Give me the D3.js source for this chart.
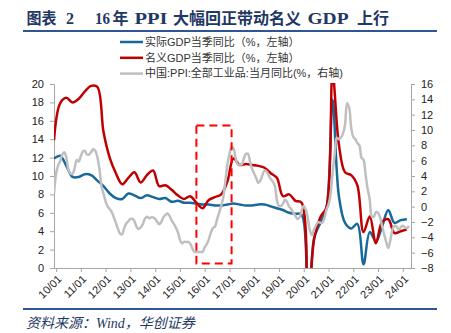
<!DOCTYPE html>
<html><head><meta charset="utf-8">
<script src="https://cdn.jsdelivr.net/npm/d3@7/dist/d3.min.js"></script>
<style>body{margin:0;background:#fff}svg{display:block}</style>
</head><body><svg id="c" width="451" height="333"></svg>
<script>
// ---------- data ----------
const quarters = ["2009-12",
 "2010-03","2010-06","2010-09","2010-12","2011-03","2011-06","2011-09","2011-12",
 "2012-03","2012-06","2012-09","2012-12","2013-03","2013-06","2013-09","2013-12",
 "2014-03","2014-06","2014-09","2014-12","2015-03","2015-06","2015-09","2015-12",
 "2016-03","2016-06","2016-09","2016-12","2017-03","2017-06","2017-09","2017-12",
 "2018-03","2018-06","2018-09","2018-12","2019-03","2019-06","2019-09","2019-12",
 "2020-03","2020-06","2020-09","2020-12","2021-03","2021-06","2021-09","2021-12",
 "2022-03","2022-06","2022-09","2022-12","2023-03","2023-06","2023-09","2023-12",
 "2024-03"];
const realGDP = [11.9,
 12.2,11.1,9.9,9.9, 10.2,10.1,9.5,8.9,
 8.1,7.6,7.5,8.1, 7.9,7.6,7.9,7.7,
 7.5,7.6,7.2,7.3, 7.1,7.1,7.0,6.9,
 6.9,6.8,6.8,6.9, 7.0,6.9,6.8,6.8,
 6.9,6.9,6.7,6.5, 6.3,6.0,5.9,5.8,
 -6.8,3.2,4.9,6.5, 18.3,7.9,4.9,4.3,
 4.8,0.4,3.9,2.9, 4.5,6.3,4.9,5.2,
 5.3];
const nominalGDP = [13.9,
 17.9,18.5,18.0,18.4, 19.2,19.8,19.7,14.8,
 12.0,10.3,9.1,9.8, 10.4,9.3,10.1,10.6,
 8.9,9.0,8.5,7.9, 7.5,7.8,7.1,6.5,
 7.4,7.7,8.0,9.4, 11.9,11.2,11.3,11.2,
 11.1,10.9,10.3,9.8, 7.8,8.0,7.3,7.1,
 -5.3,3.1,5.5,6.6, 21.2,13.5,10.4,10.1,
 9.0,3.9,5.6,2.7, 5.0,5.3,3.8,4.0,
 4.2];
const ppiStart = "2009-12";
const ppi = [1.7,
 4.3,5.4,5.9,6.8,7.1,6.4,4.8,4.3,4.3,5.0,6.1,5.9,
 6.6,7.2,7.3,6.8,6.8,7.1,7.5,7.3,6.5,5.0,2.7,1.7,
 0.7,0.0,-0.3,-0.7,-1.4,-2.1,-2.9,-3.5,-3.6,-2.8,-2.2,-1.9,
 -1.6,-1.6,-1.9,-2.6,-2.9,-2.7,-2.3,-1.6,-1.3,-1.5,-1.4,-1.4,
 -1.6,-2.0,-2.3,-2.0,-1.4,-1.1,-0.9,-1.2,-1.8,-2.2,-2.7,-3.3,
 -4.3,-4.8,-4.6,-4.6,-4.6,-4.8,-5.4,-5.9,-5.9,-5.9,-5.9,-5.9,
 -5.3,-4.9,-4.3,-3.4,-2.8,-2.6,-1.7,-0.8,0.1,1.2,3.3,5.5,
 6.9,7.8,7.6,6.4,5.5,5.5,5.5,6.3,6.9,6.9,5.8,4.9,
 4.3,3.7,3.1,3.4,4.1,4.7,4.6,4.1,3.6,3.3,2.7,0.9,
 0.1,0.1,0.4,0.9,0.6,0.0,-0.3,-0.8,-1.2,-1.6,-1.4,-0.5,
 0.1,-0.4,-1.5,-3.1,-3.7,-3.0,-2.4,-2.0,-2.1,-2.1,-1.5,-0.4,
 0.3,1.7,4.4,6.8,9.0,8.8,9.0,9.5,10.7,13.5,12.9,10.3,
 9.1,8.8,8.3,8.0,6.4,6.1,4.2,2.3,0.9,-1.3,-1.3,-0.7,
 -0.8,-1.4,-2.5,-3.6,-4.6,-5.4,-4.4,-3.0,-2.5,-2.6,-3.0,-2.7,
 -2.5,-2.7,-2.8,-2.5];
const xTickLabels = ["10/01","11/01","12/01","13/01","14/01","15/01","16/01","17/01","18/01","19/01","20/01","21/01","22/01","23/01","24/01"];
const leftTicks = [0,2,4,6,8,10,12,14,16,18,20];
const rightTicks = [-8,-6,-4,-2,0,2,4,6,8,10,12,14,16];
const seriesNames = ["实际GDP当季同比（%，左轴）","名义GDP当季同比（%，左轴）","中国:PPI:全部工业品:当月同比(%，右轴)"];
const titleParts = ["图表","2","16","年","PPI","大幅回正带动名义","GDP","上行"];
const sourceText = "资料来源：Wind，华创证券";
const highlight = {from:"2015-09", to:"2017-02", top:15.5, bottom:0.5};

// ---------- layout ----------
const svg = d3.select("#c");
const parse = d3.timeParse("%Y-%m");
const L = 54, R = 411, T = 84, B = 268;
const colors = ["#17699a", "#c00000", "#bfbfbf"];
const axisColor = "#a6a6a6";

const x = d3.scaleTime().domain([parse("2009-12"), parse("2024-05")]).range([L, R]);
const yL = d3.scaleLinear().domain([0, 20]).range([B, T]);
const yR = d3.scaleLinear().domain([-8, 16]).range([B, T]);

// title (segments placed like the original's wide spacing)
const titleX = [26.5, 66, 95, 112.5, 134.5, 173, 307.5, 357];
const titleLen = [30, 0, 15, 0, 33, 0, 41, 0];
const tt = svg.append("text").attr("y", 24)
  .attr("font-family", "'Liberation Serif','Noto Sans CJK SC',serif")
  .attr("font-weight", "bold").attr("font-size", 16).attr("fill", "#1f3864");
titleParts.forEach((p, i) => {
  const ts = tt.append("tspan").attr("x", titleX[i]).text(p);
  if (titleLen[i]) ts.attr("textLength", titleLen[i]).attr("lengthAdjust", "spacingAndGlyphs");
});
svg.append("line").attr("x1", 23).attr("x2", 437).attr("y1", 31).attr("y2", 31)
  .attr("stroke", "#2f5597").attr("stroke-width", 2);
svg.append("line").attr("x1", 23).attr("x2", 437).attr("y1", 309).attr("y2", 309)
  .attr("stroke", "#2f5597").attr("stroke-width", 2);
svg.append("text").attr("x", 26).attr("y", 328)
  .attr("font-family", "'Liberation Serif','Noto Sans CJK SC',serif")
  .attr("font-style", "italic").attr("font-size", 14).attr("fill", "#1f3864")
  .text(sourceText);

// axes
const fontAxis = "'Liberation Sans',Arial,sans-serif";
const gL = svg.append("g").attr("transform", `translate(${L},0)`)
  .call(d3.axisLeft(yL).tickValues(leftTicks).tickSize(4).tickPadding(6).tickFormat(d3.format("d")));
const gR = svg.append("g").attr("transform", `translate(${R},0)`)
  .call(d3.axisRight(yR).tickValues(rightTicks).tickSize(4).tickPadding(6).tickFormat(d3.format("d")));
const xTickDates = xTickLabels.map(s => parse("20" + s.slice(0,2) + "-" + s.slice(3)));
const gX = svg.append("g").attr("transform", `translate(0,${B})`)
  .call(d3.axisBottom(x).tickValues(xTickDates).tickSize(4).tickFormat((d,i) => xTickLabels[i]));
gX.select(".domain").attr("d", `M${L},0.5H${R}`);
[gL, gR, gX].forEach(g => {
  g.selectAll("path,line").attr("stroke", axisColor);
  g.selectAll("text").attr("font-family", fontAxis).attr("font-size", 11).attr("fill", "#222");
});
gX.selectAll(".tick text").attr("text-anchor", "end")
  .attr("transform", "translate(3,9) rotate(-45)").attr("dy", "0.35em").attr("y", 0).attr("x", 0);

// clip
svg.append("clipPath").attr("id", "plot").append("rect")
  .attr("x", L).attr("y", T - 1).attr("width", R - L).attr("height", B - T + 1);

const curve = d3.curveCatmullRom.alpha(0.5);
const plot = svg.append("g").attr("clip-path", "url(#plot)");
const qDates = quarters.map(parse);
const ppiDates = ppi.map((v, i) => d3.timeMonth.offset(parse(ppiStart), i));

const lineL = d3.line().x(d => x(d[0])).y(d => yL(d[1])).curve(curve);
const lineR = d3.line().x(d => x(d[0])).y(d => yR(d[1])).curve(curve);

plot.append("path").attr("d", lineL(qDates.map((d, i) => [d, realGDP[i]])))
  .attr("fill", "none").attr("stroke", colors[0]).attr("stroke-width", 2.5);
plot.append("path").attr("d", lineL(qDates.map((d, i) => [d, nominalGDP[i]])))
  .attr("fill", "none").attr("stroke", colors[1]).attr("stroke-width", 2.5);
plot.append("path").attr("d", lineR(ppiDates.map((d, i) => [d, ppi[i]])))
  .attr("fill", "none").attr("stroke", colors[2]).attr("stroke-width", 2.5);

// highlight box
svg.append("rect")
  .attr("x", x(parse(highlight.from))).attr("y", yL(highlight.top))
  .attr("width", x(parse(highlight.to)) - x(parse(highlight.from)))
  .attr("height", yL(highlight.bottom) - yL(highlight.top))
  .attr("fill", "none").attr("stroke", "#ff0000").attr("stroke-width", 2)
  .attr("stroke-dasharray", "8,5");

// legend
const lg = svg.append("g");
seriesNames.forEach((name, i) => {
  const yy = 42 + i * 15.8;
  lg.append("line").attr("x1", 120).attr("x2", 143).attr("y1", yy).attr("y2", yy)
    .attr("stroke", colors[i]).attr("stroke-width", 2.5);
  lg.append("text").attr("x", 145).attr("y", yy).attr("dy", "0.35em")
    .attr("font-family", "'Liberation Sans','Noto Sans CJK SC',sans-serif")
    .attr("font-size", 11).attr("fill", "#333").text(name);
});
</script>
</body></html>
